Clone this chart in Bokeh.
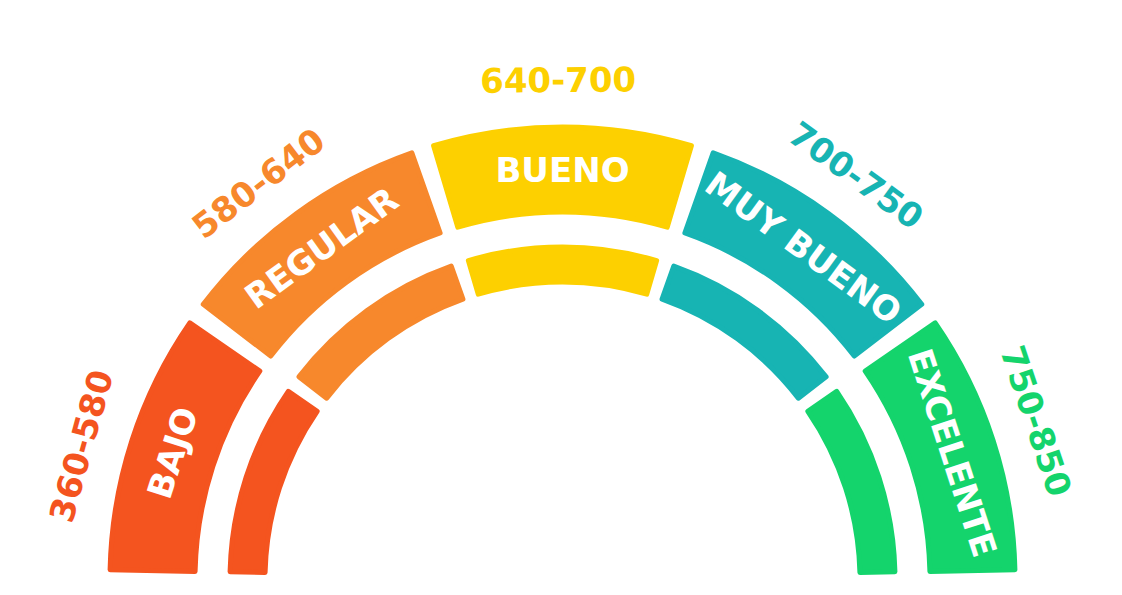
import numpy as np
from bokeh.plotting import figure
from bokeh.models import ColumnDataSource, Range1d
from bokeh.core.properties import value
from bokeh.embed import file_html
from bokeh.resources import INLINE

# ---- data ----
categories = ["BAJO", "REGULAR", "BUENO", "MUY BUENO", "EXCELENTE"]
score_ranges = ["360-580", "580-640", "640-700", "700-750", "750-850"]
colors = ["#F4541F", "#F7882C", "#FDD000", "#17B4B3", "#14D46C"]

# ---- layout constants ----
W, H = 1122, 595
CX, CY = 0.0, 0.0
OUT_R0, OUT_R1 = 365, 455      # outer band radii
IN_R0, IN_R1 = 295, 335        # inner band radii
LABEL_R = 410
RANGE_R = 500
GAP = 2.2                      # degrees between segments
END_CUT = 0.9                  # degrees trimmed at both bottom ends
STROKE = 5                     # rounded-corner stroke width (px)
RANGE_ANGLE_SHIFT = [2.5, 1.5, 0.5, 0.0, 0.5]

n = len(categories)
seg = 180.0 / n


def band_source(r0, r1):
    rmid = (r0 + r1) / 2
    extra = np.degrees((STROKE / 2) / rmid)
    starts, ends = [], []
    for i in range(n):
        hi = 180.0 - seg * i
        lo = 180.0 - seg * (i + 1)
        s = lo + (END_CUT if i == n - 1 else GAP / 2) + extra
        e = hi - (END_CUT if i == 0 else GAP / 2) - extra
        starts.append(np.radians(s))
        ends.append(np.radians(e))
    return ColumnDataSource(dict(start=starts, end=ends, color=colors))


mids = np.array([180.0 - seg * (i + 0.5) for i in range(n)])

lab_ang = np.radians(mids)
label_src = ColumnDataSource(dict(
    x=CX + LABEL_R * np.cos(lab_ang),
    y=CY + LABEL_R * np.sin(lab_ang),
    text=categories,
    angle=np.radians(mids - 90),
))

r_ang_deg = mids + np.array(RANGE_ANGLE_SHIFT)
r_ang = np.radians(r_ang_deg)
range_src = ColumnDataSource(dict(
    x=CX + RANGE_R * np.cos(r_ang),
    y=CY + RANGE_R * np.sin(r_ang),
    text=score_ranges,
    angle=np.radians(r_ang_deg - 90),
    color=colors,
))

p = figure(width=W, height=H, output_backend="svg", toolbar_location=None,
           x_range=Range1d(-562, 560), y_range=Range1d(-16, 579),
           x_axis_type=None, y_axis_type=None, min_border=0)
p.grid.visible = False
p.outline_line_color = None
p.background_fill_color = "white"
p.border_fill_color = "white"

half = STROKE / 2
for r0, r1 in [(OUT_R0, OUT_R1), (IN_R0, IN_R1)]:
    p.annular_wedge(x=CX, y=CY, inner_radius=r0 + half, outer_radius=r1 - half,
                    start_angle="start", end_angle="end", fill_color="color",
                    line_color="color", line_width=STROKE, line_join="round",
                    source=band_source(r0, r1))

p.text(x="x", y="y", text="text", angle="angle", source=label_src,
       text_color="white", text_font=value("DejaVu Sans"), text_font_size="34px",
       text_font_style="bold", text_align="center", text_baseline="middle")
p.text(x="x", y="y", text="text", angle="angle", source=range_src,
       text_color="color", text_font=value("DejaVu Sans"), text_font_size="34px",
       text_font_style="bold", text_align="center", text_baseline="middle")

open("out.html", "w").write(file_html(p, INLINE))
